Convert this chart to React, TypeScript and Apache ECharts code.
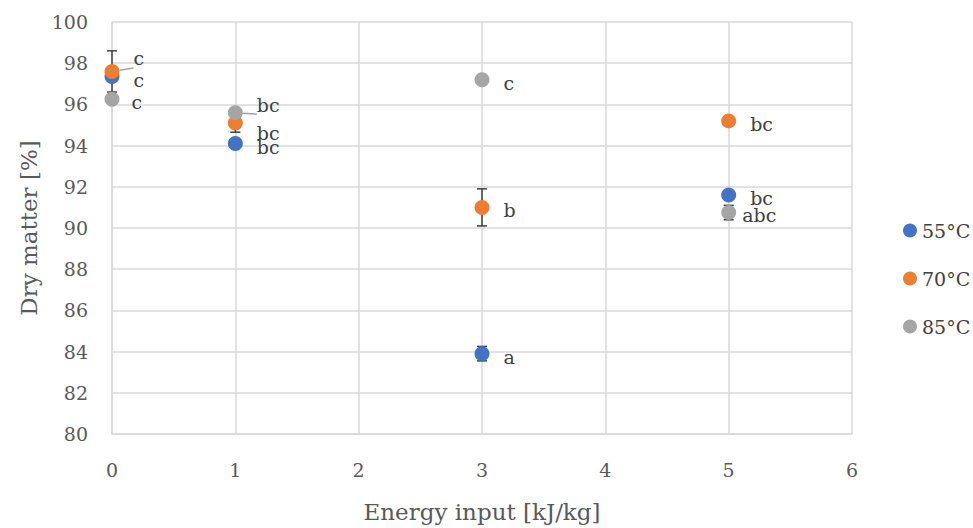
import React, { useEffect, useRef } from "react";
import * as echarts from "echarts";

const energy = [0, 1, 3, 5];
const seriesNames = ["55°C", "70°C", "85°C"];
const dm55 = [97.35, 94.1, 83.9, 91.6];
const dm70 = [97.6, 95.1, 91.0, 95.2];
const dm85 = [96.25, 95.6, 97.2, 90.75];
const err55 = [0.15, 0.1, 0.35, 0.1];
const err70 = [1.0, 0.45, 0.9, 0.1];
const err85 = [0.1, 0.1, 0.1, 0.35];
const letters55 = ["c", "bc", "a", "bc"];
const letters70 = ["c", "bc", "b", "bc"];
const letters85 = ["c", "bc", "c", "abc"];
const colors = ["#4472C4", "#ED7D31", "#A5A5A5"];

// label offsets [dx, dy] per point (layout only)
const offs55 = [[0, 3], [0, 3], [0, 3], [0, 3]];
const offs70 = [[0, -13], [0, 10], [0, 3], [0, 3]];
const offs85 = [[-2, 3], [0, -8], [0, 3], [-8, 2]];
const leader70 = [true, false, false, false];
const leader85 = [false, true, false, false];

const FONT = "'DejaVu Serif', 'Liberation Serif', serif";

export default function App() {
  const ref = useRef<HTMLDivElement>(null);
  useEffect(() => {
    if (!ref.current) return;
    const chart = echarts.init(ref.current, undefined, { renderer: "svg" });
    const vals = [dm55, dm70, dm85];
    const errs = [err55, err70, err85];
    const lets = [letters55, letters70, letters85];
    const offs = [offs55, offs70, offs85];
    const leaders = [[false, false, false, false], leader70, leader85];

    const errorSeries = vals.map((v, si) => ({
      type: "custom",
      name: seriesNames[si] + " err",
      silent: true,
      z: 1,
      data: energy.map((x, i) => [x, v[i] - errs[si][i], v[i] + errs[si][i]]),
      renderItem: (params: any, api: any) => {
        const lo = api.coord([api.value(0), api.value(1)]);
        const hi = api.coord([api.value(0), api.value(2)]);
        const w = 5;
        const style = { stroke: "#404040", lineWidth: 1.5 };
        return {
          type: "group",
          children: [
            { type: "line", shape: { x1: lo[0], y1: lo[1], x2: hi[0], y2: hi[1] }, style },
            { type: "line", shape: { x1: lo[0] - w, y1: lo[1], x2: lo[0] + w, y2: lo[1] }, style },
            { type: "line", shape: { x1: hi[0] - w, y1: hi[1], x2: hi[0] + w, y2: hi[1] }, style },
          ],
        };
      },
    }));

    const scatterSeries = vals.map((v, si) => ({
      type: "scatter",
      name: seriesNames[si],
      symbol: "circle",
      symbolSize: 15,
      z: 3,
      itemStyle: { color: colors[si], opacity: 1 },
      label: {
        show: true,
        position: "right",
        distance: 14,
        fontFamily: FONT,
        fontSize: 19,
        color: "#404040",
      },
      data: energy.map((x, i) => ({
        value: [x, v[i]],
        label: {
          formatter: lets[si][i],
          offset: offs[si][i],
        },
        labelLine: leaders[si][i]
          ? { show: true, lineStyle: { color: "#A5A5A5", width: 1.5 } }
          : { show: false },
      })),
    }));

    chart.setOption({
      animation: false,
      backgroundColor: "#ffffff",
      textStyle: { fontFamily: FONT },
      legend: {
        orient: "vertical",
        left: 898,
        top: 216,
        itemGap: 29,
        itemWidth: 14,
        itemHeight: 14,
        data: seriesNames.map((n) => ({ name: n, icon: "circle" })),
        textStyle: { fontFamily: FONT, fontSize: 19, color: "#404040" },
      },
      grid: { left: 112, right: 121, top: 22, bottom: 91 },
      xAxis: {
        type: "value",
        min: 0,
        max: 6,
        interval: 1,
        name: "Energy input [kJ/kg]",
        nameLocation: "middle",
        nameGap: 66,
        nameTextStyle: { fontFamily: FONT, fontSize: 23, color: "#595959" },
        axisLine: { show: true, lineStyle: { color: "#D9D9D9", width: 1.5 } },
        axisTick: { show: false },
        axisLabel: { fontFamily: FONT, fontSize: 19, color: "#595959", margin: 26 },
        splitLine: { show: true, lineStyle: { color: "#D9D9D9", width: 1.5 } },
      },
      yAxis: {
        type: "value",
        min: 80,
        max: 100,
        interval: 2,
        name: "Dry matter [%]",
        nameLocation: "middle",
        nameGap: 70,
        nameTextStyle: { fontFamily: FONT, fontSize: 23, color: "#595959" },
        axisLine: { show: true, lineStyle: { color: "#D9D9D9", width: 1.5 } },
        axisTick: { show: false },
        axisLabel: { fontFamily: FONT, fontSize: 19, color: "#595959", margin: 24 },
        splitLine: { show: true, lineStyle: { color: "#D9D9D9", width: 1.5 } },
      },
      series: [...errorSeries, ...scatterSeries],
    });
    return () => chart.dispose();
  }, []);
  return (
    <div
      ref={ref}
      style={{ position: "absolute", left: 0, top: 0, width: 973, height: 528 }}
    />
  );
}
